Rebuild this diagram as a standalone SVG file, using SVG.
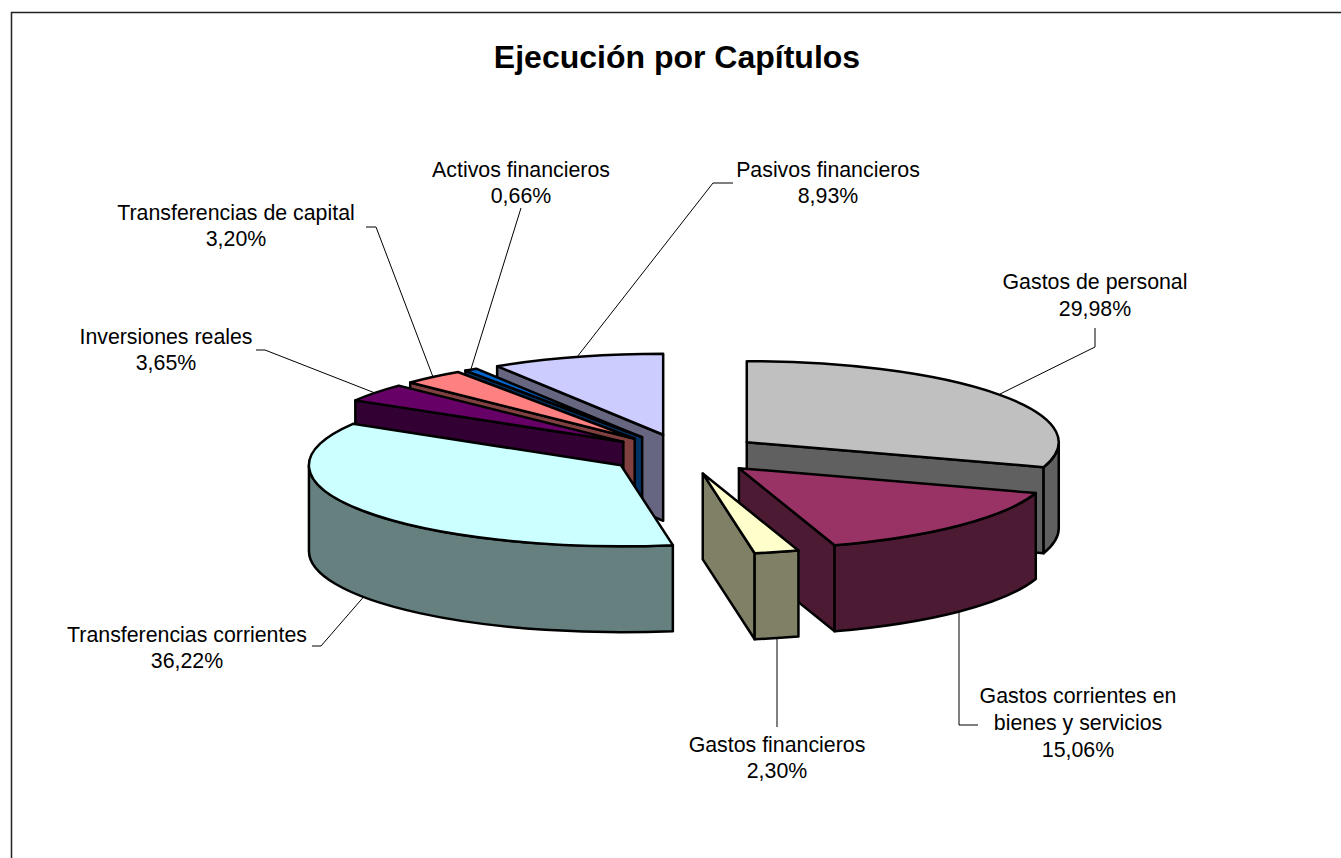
<svg xmlns="http://www.w3.org/2000/svg" width="1341" height="858" viewBox="0 0 1341 858">
<style>
.t{font-family:"Liberation Sans",Arial,sans-serif;font-size:21.33px;fill:#000;text-anchor:middle}
.title{font-family:"Liberation Sans",Arial,sans-serif;font-size:32px;font-weight:bold;fill:#000;text-anchor:middle}
.s path{stroke:#000;stroke-width:2.5;stroke-linejoin:round}
.lead{fill:none;stroke:#000;stroke-width:1}
</style>
<rect x="0" y="0" width="1341" height="858" fill="#fff"/>
<path d="M11.5,858 V12.5 H1341" fill="none" stroke="#222" stroke-width="1.5"/>
<text class="title" x="677" y="68">Ejecución por Capítulos</text>

<g id="slice-gastos-personal" class="s">
  <path fill="#606060" d="M746.76,442.23 L1043.61,467.16 L1043.61,553.16 L746.76,528.23 Z"/>
  <path fill="#606060" d="M1058.76,442.23 A312,81 0 0,1 1043.61,467.16 L1043.61,553.16 A312,81 0 0,0 1058.76,528.23 Z"/>
  <path fill="#C0C0C0" d="M746.76,442.23 L746.76,361.23 A312,81 0 0,1 1043.61,467.16 Z"/>
</g>
<g id="slice-pasivos" class="s">
  <path fill="#666680" d="M663.18,434.78 L497.14,366.20 L497.14,452.20 L663.18,520.78 Z"/>
  <path fill="#CCCCFF" d="M663.18,434.78 L497.14,366.20 A312,81 0 0,1 663.18,353.78 Z"/>
</g>
<g id="slice-activos" class="s">
  <path fill="#003366" d="M642.18,437.29 L465.39,370.55 L465.39,456.55 L642.18,523.29 Z"/>
  <path fill="#0066CC" d="M642.18,437.29 L465.39,370.55 A312,81 0 0,1 476.14,368.71 Z"/>
</g>
<g id="slice-transf-capital" class="s">
  <path fill="#804040" d="M634.72,438.74 L410.20,382.49 L410.20,468.49 L634.72,524.74 Z"/>
  <path fill="#FF8080" d="M634.72,438.74 L410.20,382.49 A312,81 0 0,1 457.93,372.00 Z"/>
</g>
<g id="slice-inversiones" class="s">
  <path fill="#330033" d="M623.32,441.86 L355.33,400.37 L355.33,486.37 L623.32,527.86 Z"/>
  <path fill="#660066" d="M623.32,441.86 L355.33,400.37 A312,81 0 0,1 398.80,385.61 Z"/>
</g>
<g id="slice-transf-corrientes" class="s">
  <path fill="#668080" d="M672.85,545.16 A312,81 0 0,1 308.95,465.29 L308.95,551.29 A312,81 0 0,0 672.85,631.16 Z"/>
  <path fill="#CCFFFF" d="M620.95,465.29 L672.85,545.16 A312,81 0 0,1 352.96,423.80 Z"/>
</g>
<g id="slice-gastos-corrientes" class="s">
  <path fill="#4D1A33" d="M738.92,468.15 L834.60,545.25 L834.60,631.25 L738.92,554.15 Z"/>
  <path fill="#4D1A33" d="M1035.77,493.08 A312,81 0 0,1 834.60,545.25 L834.60,631.25 A312,81 0 0,0 1035.77,579.08 Z"/>
  <path fill="#993366" d="M738.92,468.15 L1035.77,493.08 A312,81 0 0,1 834.60,545.25 Z"/>
</g>
<g id="slice-gastos-financieros" class="s">
  <path fill="#808066" d="M702.76,473.43 L754.66,553.30 L754.66,639.30 L702.76,559.43 Z"/>
  <path fill="#808066" d="M798.44,550.53 A312,81 0 0,1 754.66,553.30 L754.66,639.30 A312,81 0 0,0 798.44,636.53 Z"/>
  <path fill="#FFFFCC" d="M702.76,473.43 L798.44,550.53 A312,81 0 0,1 754.66,553.30 Z"/>
</g>

<g id="connectors">
  <polyline class="lead" points="1095,328 1095,347 1000,394"/>
  <polyline class="lead" points="959,611 959,725 978,725"/>
  <polyline class="lead" points="777,638 777,727"/>
  <polyline class="lead" points="363.5,597 321,646 312,646"/>
  <polyline class="lead" points="256,350 265,350 375,393"/>
  <polyline class="lead" points="366,227 376,227 433,377"/>
  <polyline class="lead" points="521,208 471,369"/>
  <polyline class="lead" points="733,183 713,183 577,357"/>
</g>

<g id="label-activos"><text class="t" x="521" y="177">Activos financieros</text><text class="t" x="521" y="203">0,66%</text></g>
<g id="label-pasivos"><text class="t" x="828" y="177">Pasivos financieros</text><text class="t" x="828" y="203">8,93%</text></g>
<g id="label-transf-capital"><text class="t" x="236" y="220">Transferencias de capital</text><text class="t" x="236" y="246">3,20%</text></g>
<g id="label-gastos-personal"><text class="t" x="1095" y="289">Gastos de personal</text><text class="t" x="1095" y="316">29,98%</text></g>
<g id="label-inversiones"><text class="t" x="166" y="344">Inversiones reales</text><text class="t" x="166" y="370">3,65%</text></g>
<g id="label-transf-corrientes"><text class="t" x="187" y="642">Transferencias corrientes</text><text class="t" x="187" y="668">36,22%</text></g>
<g id="label-gastos-corrientes"><text class="t" x="1078" y="703">Gastos corrientes en</text><text class="t" x="1078" y="730">bienes y servicios</text><text class="t" x="1078" y="757">15,06%</text></g>
<g id="label-gastos-financieros"><text class="t" x="777" y="752">Gastos financieros</text><text class="t" x="777" y="778">2,30%</text></g>
</svg>
